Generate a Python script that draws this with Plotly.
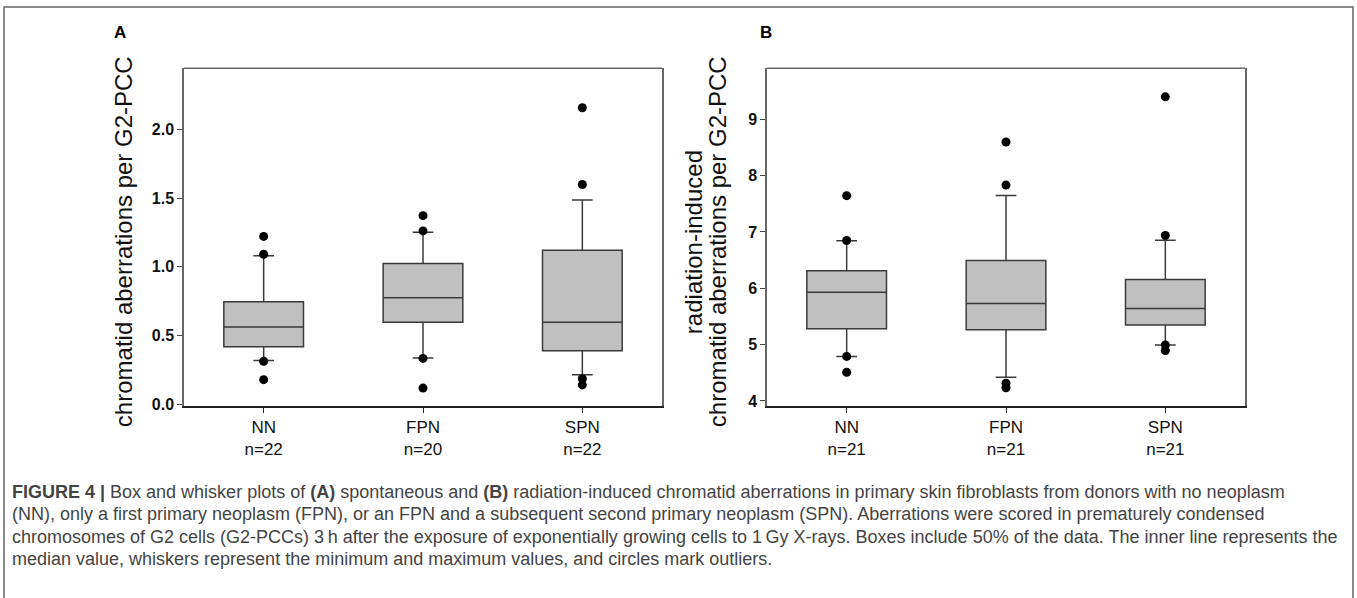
import plotly.graph_objects as go

W, H = 1357, 598

categories = ["NN", "FPN", "SPN"]
n_a = [22, 20, 22]
n_b = [21, 21, 21]

# Panel A: spontaneous chromatid aberrations per G2-PCC
a_q1 = [0.417, 0.597, 0.388]
a_median = [0.561, 0.775, 0.597]
a_q3 = [0.746, 1.024, 1.120]
a_low = [0.317, 0.336, 0.213]
a_high = [1.081, 1.252, 1.487]
a_out = [[1.221, 1.091, 0.312, 0.178],
         [1.372, 1.261, 0.333, 0.117],
         [2.158, 1.599, 0.185, 0.140]]

# Panel B: radiation-induced chromatid aberrations per G2-PCC
b_q1 = [5.281, 5.263, 5.346]
b_median = [5.930, 5.732, 5.639]
b_q3 = [6.311, 6.491, 6.158]
b_low = [4.789, 4.421, 4.995]
b_high = [6.842, 7.649, 6.854]
b_out = [[7.644, 6.849, 4.790, 4.509],
         [8.596, 7.832, 4.316, 4.235],
         [9.398, 6.937, 4.995, 4.895]]

a_ticks = [0.0, 0.5, 1.0, 1.5, 2.0]
b_ticks = [4, 5, 6, 7, 8, 9]

FONT = "Liberation Sans, Arial, sans-serif"

def px_x(p):
    return p / W

def px_y(p):
    return 1 - p / H

fig = go.Figure()

panels = [
    ("x", "y", a_q1, a_median, a_q3, a_low, a_high, a_out),
    ("x2", "y2", b_q1, b_median, b_q3, b_low, b_high, b_out),
]
for xa, ya, q1, med, q3, lo, hi, outs in panels:
    fig.add_trace(go.Box(
        x=[0, 1, 2], q1=q1, median=med, q3=q3,
        lowerfence=lo, upperfence=hi,
        boxpoints=False, width=0.5, whiskerwidth=0.26,
        fillcolor="#c0c0c0", line=dict(color="#3a3a3a", width=1.5),
        xaxis=xa, yaxis=ya, showlegend=False, hoverinfo="skip",
    ))
    ox, oy = [], []
    for i, vals in enumerate(outs):
        for v in vals:
            ox.append(i)
            oy.append(v)
    fig.add_trace(go.Scatter(
        x=ox, y=oy, mode="markers",
        marker=dict(color="black", size=9),
        xaxis=xa, yaxis=ya, showlegend=False, hoverinfo="skip",
    ))

ydom = [px_y(411), px_y(69)]
xdomA = [px_x(184), px_x(662)]
xdomB = [px_x(767), px_x(1245)]

common_x = dict(
    range=[-0.5, 2.5], tickmode="array", tickvals=[0, 1, 2],
    showline=True, linecolor="#222", linewidth=1.5, mirror=False,
    ticks="outside", ticklen=5, tickcolor="#222", showgrid=False, zeroline=False,
    tickfont=dict(family=FONT, size=17, color="#111"),
)
common_y = dict(
    showline=True, linecolor="#666", linewidth=1.5, mirror=True,
    ticks="outside", ticklen=5, tickcolor="#444", showgrid=False, zeroline=False,
    tickfont=dict(family=FONT, size=16, color="#111"),
)

fig.update_layout(
    width=W, height=H,
    margin=dict(l=0, r=0, t=0, b=0),
    paper_bgcolor="white", plot_bgcolor="white",
    xaxis=dict(domain=xdomA, anchor="y",
               ticktext=[f"{c}<br>n={n}" for c, n in zip(categories, n_a)], **common_x),
    yaxis=dict(domain=ydom, anchor="x", range=[-0.015, 2.446],
               tickvals=a_ticks, ticktext=[f"<b>{t:.1f}</b>" for t in a_ticks], **common_y),
    xaxis2=dict(domain=xdomB, anchor="y2",
                ticktext=[f"{c}<br>n={n}" for c, n in zip(categories, n_b)], **common_x),
    yaxis2=dict(domain=ydom, anchor="x2", range=[3.907, 9.907],
                tickvals=b_ticks, ticktext=[f"<b>{t}</b>" for t in b_ticks], **common_y),
)

# top border lines of each panel
for xr, yr in [("x domain", "y domain"), ("x2 domain", "y2 domain")]:
    fig.add_shape(type="line", xref=xr, yref=yr, x0=0, x1=1, y0=1, y1=1,
                  line=dict(color="#666", width=1.5))

# outer frame
fig.add_shape(type="rect", xref="paper", yref="paper",
              x0=px_x(4), x1=px_x(1353), y0=px_y(640), y1=px_y(7),
              line=dict(color="#666", width=1.5), fillcolor="rgba(0,0,0,0)")

ann = []
ann.append(dict(text="<b>A</b>", x=px_x(120), y=px_y(33), font=dict(size=17, color="black")))
ann.append(dict(text="<b>B</b>", x=px_x(766), y=px_y(33), font=dict(size=17, color="black")))
ann.append(dict(text="chromatid aberrations per G2-PCC", x=px_x(123), y=px_y(245),
                textangle=-90, font=dict(size=24, color="#111")))
ann.append(dict(text="radiation-induced", x=px_x(693), y=px_y(245),
                textangle=-90, font=dict(size=24, color="#111")))
ann.append(dict(text="chromatid aberrations per G2-PCC", x=px_x(717), y=px_y(245),
                textangle=-90, font=dict(size=24, color="#111")))

caption = [
    "<b>FIGURE 4 |</b> Box and whisker plots of <b>(A)</b> spontaneous and <b>(B)</b> radiation-induced chromatid aberrations in primary skin fibroblasts from donors with no neoplasm",
    "(NN), only a first primary neoplasm (FPN), or an FPN and a subsequent second primary neoplasm (SPN). Aberrations were scored in prematurely condensed",
    "chromosomes of G2 cells (G2-PCCs) 3\u2009h after the exposure of exponentially growing cells to 1\u2009Gy X-rays. Boxes include 50% of the data. The inner line represents the",
    "median value, whiskers represent the minimum and maximum values, and circles mark outliers.",
]
for i, line in enumerate(caption):
    ann.append(dict(text=line, x=px_x(10), y=px_y(498 + 22.5 * i), xanchor="left",
                    font=dict(size=18, color="#444")))

for a in ann:
    a.setdefault("xanchor", "center")
    a.update(xref="paper", yref="paper", showarrow=False, yanchor="middle")
    a["font"]["family"] = FONT
    fig.add_annotation(**a)

fig.write_html("out.html", config={"displayModeBar": False},
               post_script="document.body.style.margin='0';document.body.style.overflow='hidden';")
